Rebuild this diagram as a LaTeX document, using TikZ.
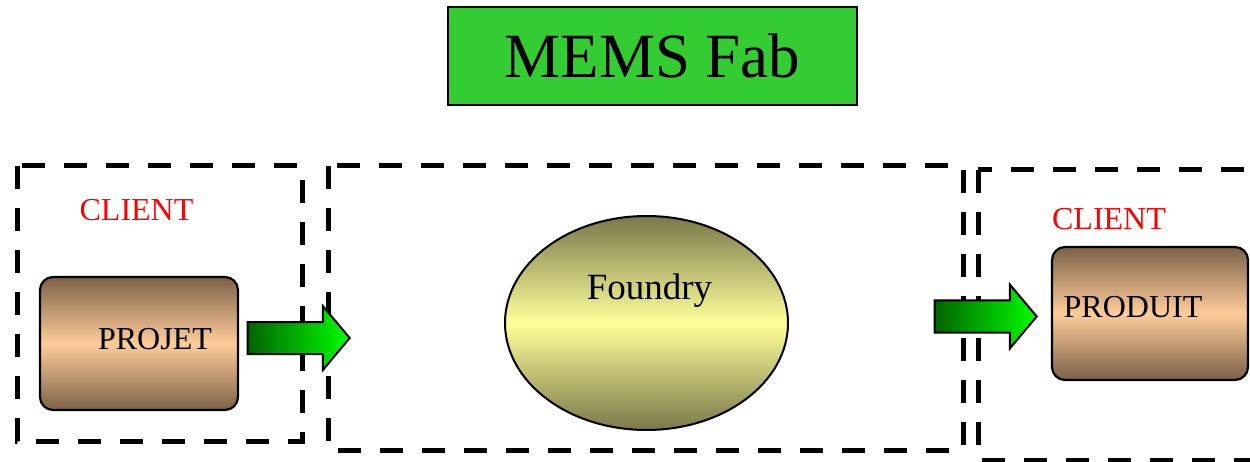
\documentclass[tikz,border=0pt]{standalone}
\usepackage{fontspec}
\setmainfont{Liberation Serif}
\usetikzlibrary{shapes.geometric}
\usetikzlibrary{shapes.arrows}

\definecolor{fabgreen}{HTML}{33CC33}
\definecolor{mudbrown}{HTML}{7C6148}
\definecolor{peach}{HTML}{FFCC99}
\definecolor{darkolive}{HTML}{7A784A}
\definecolor{paleyellow}{HTML}{FFFF99}
\definecolor{deepgreen}{HTML}{006400}
\definecolor{limegreen}{HTML}{00FF00}

\begin{document}
\begin{tikzpicture}[x=1pt, y=-1pt, semithick]
    \tikzstyle{zone}=[draw=black, line width=5pt, dash pattern=on 23pt off 19pt]
    \tikzstyle{block}=[draw=black, line width=2.2pt, rounded corners=13pt, minimum height=133pt, inner sep=0pt,
        top color=mudbrown, bottom color=mudbrown, middle color=peach]
    \tikzstyle{fatarrow}=[draw=black, line width=2pt, single arrow, single arrow tip angle=100,
        single arrow head extend=16pt, minimum height=102pt, inner xsep=0pt, inner ysep=15pt,
        left color=deepgreen, right color=limegreen]
    \tikzstyle{client}=[text=red, font=\fontsize{32}{36}\selectfont, anchor=base, inner sep=0pt]
    \tikzstyle{caption}=[font=\fontsize{32}{36}\selectfont, anchor=base, inner sep=0pt]
    \useasboundingbox (0,0) rectangle (1250,462);

    % dashed zones
    \draw[zone] (17,166) rectangle (302,441);
    \draw[zone] (328,166) rectangle (963,450);
    \draw[zone] (978,170) rectangle (1262,460);

    \node[draw=black, line width=2pt, fill=fabgreen, minimum width=409pt, minimum height=98pt, inner sep=0pt,
        font=\fontsize{63}{70}\selectfont] (fab) at (652.5,56) {MEMS Fab};

    \node[client] (client1) at (136.5,221) {CLIENT};
    \node[block, minimum width=198pt] (projet) at (139,343.5) {};
    \node[caption] (projettext) at (155,349) {PROJET};

    \node[draw=black, line width=2pt, ellipse, minimum width=283pt, minimum height=214pt, inner sep=0pt,
        top color=darkolive, bottom color=darkolive, middle color=paleyellow] (foundry) at (646.5,323) {};
    \node[caption, font=\fontsize{37}{40}\selectfont] (foundrytext) at (649.5,300) {Foundry};

    \node[client] (client2) at (1109,230) {CLIENT};
    \node[block, minimum width=196pt] (produit) at (1150,313.5) {};
    \node[caption] (produittext) at (1133,317) {PRODUIT};

    \node[fatarrow] (send) at (292,338) {};
    \node[fatarrow] (deliver) at (979,316.5) {};
\end{tikzpicture}
\end{document}
